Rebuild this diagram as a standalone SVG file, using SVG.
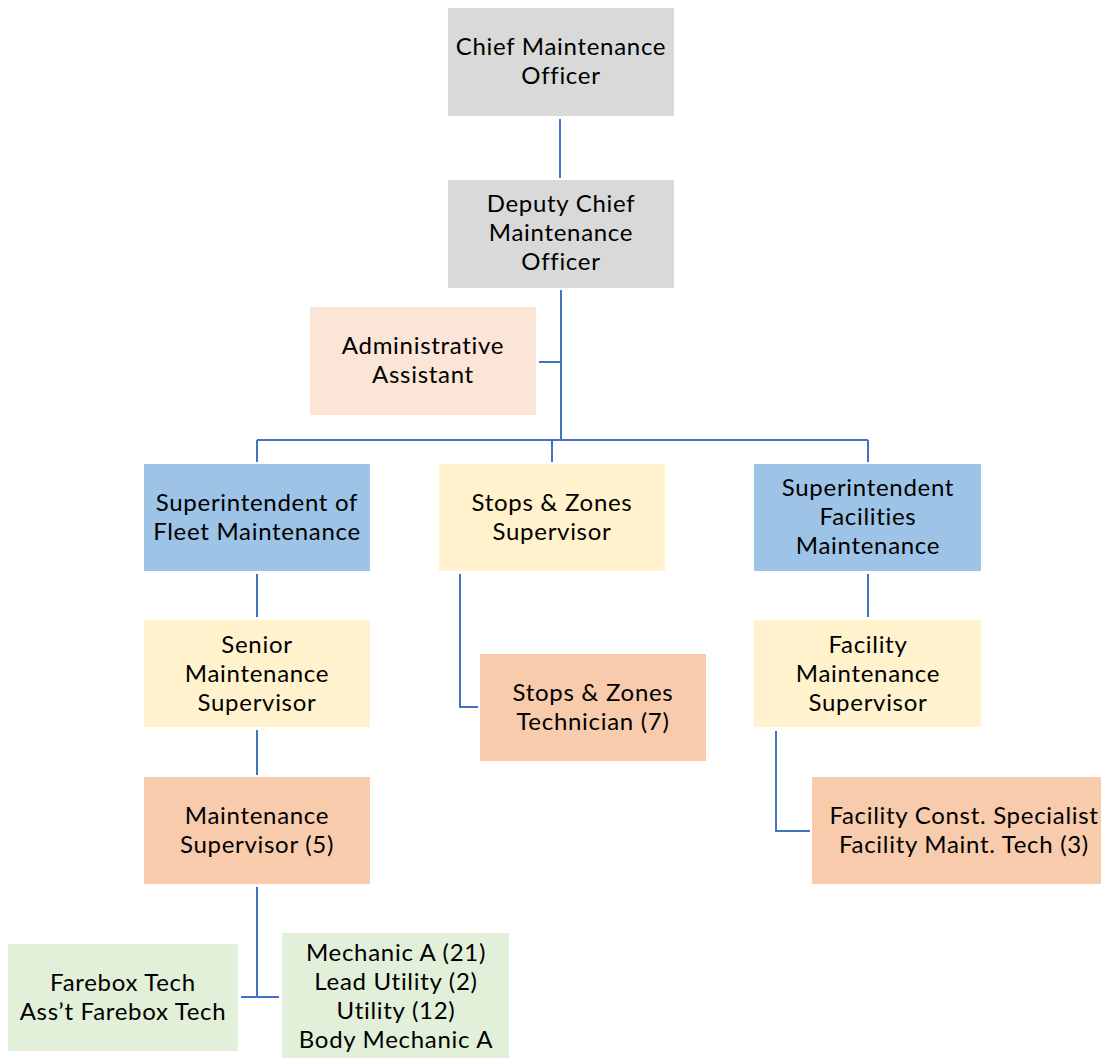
<svg xmlns="http://www.w3.org/2000/svg" width="1101" height="1058" viewBox="0 0 1101 1058">
  <style>
    text { font-family: Lato, "Open Sans", "Liberation Sans", Arial, sans-serif; font-size: 24px; letter-spacing: 0.7px; fill: #000; text-anchor: middle; }
    .gray { fill: #d9d9d9; }
    .peach { fill: #fbe5d6; }
    .blue { fill: #9dc3e6; }
    .yellow { fill: #fff2cc; }
    .orange { fill: #f8cbad; }
    .green { fill: #e2f0d9; }
    .conn { fill: none; stroke: #4472c4; stroke-width: 2; }
  </style>
  <rect width="1101" height="1058" fill="#fff"/>

  <g id="connectors">
    <path class="conn" d="M560 119 V178"/>
    <path class="conn" d="M561 290 V440"/>
    <path class="conn" d="M539 362 H561"/>
    <path class="conn" d="M257 440 H868"/>
    <path class="conn" d="M257 440 V462"/>
    <path class="conn" d="M552 440 V462"/>
    <path class="conn" d="M868 440 V462"/>
    <path class="conn" d="M257 574 V617"/>
    <path class="conn" d="M257 730 V775"/>
    <path class="conn" d="M257 887 V997 M241 997 H279"/>
    <path class="conn" d="M460 574 V707 H478"/>
    <path class="conn" d="M868 574 V617"/>
    <path class="conn" d="M776 731 V831 H810"/>
  </g>

  <g id="chief">
    <rect class="gray" x="448" y="8" width="226" height="108"/>
    <text x="561" y="55">Chief Maintenance</text>
    <text x="561" y="84">Officer</text>
  </g>
  <g id="deputy">
    <rect class="gray" x="448" y="180" width="226" height="108"/>
    <text x="561" y="212">Deputy Chief</text>
    <text x="561" y="241">Maintenance</text>
    <text x="561" y="270">Officer</text>
  </g>
  <g id="admin">
    <rect class="peach" x="310" y="307" width="226" height="108"/>
    <text x="423" y="354">Administrative</text>
    <text x="423" y="383">Assistant</text>
  </g>
  <g id="supt-fleet">
    <rect class="blue" x="144" y="464" width="226" height="107"/>
    <text x="257" y="511">Superintendent of</text>
    <text x="257" y="540">Fleet Maintenance</text>
  </g>
  <g id="stops-supervisor">
    <rect class="yellow" x="439" y="464" width="226" height="107"/>
    <text x="552" y="511">Stops &amp; Zones</text>
    <text x="552" y="540">Supervisor</text>
  </g>
  <g id="supt-facilities">
    <rect class="blue" x="754" y="464" width="227" height="107"/>
    <text x="868" y="496">Superintendent</text>
    <text x="868" y="525">Facilities</text>
    <text x="868" y="554">Maintenance</text>
  </g>
  <g id="senior-supervisor">
    <rect class="yellow" x="144" y="620" width="226" height="107"/>
    <text x="257" y="653">Senior</text>
    <text x="257" y="682">Maintenance</text>
    <text x="257" y="711">Supervisor</text>
  </g>
  <g id="stops-technician">
    <rect class="orange" x="480" y="654" width="226" height="107"/>
    <text x="593" y="701">Stops &amp; Zones</text>
    <text x="593" y="730">Technician (7)</text>
  </g>
  <g id="facility-supervisor">
    <rect class="yellow" x="754" y="620" width="227" height="107"/>
    <text x="868" y="653">Facility</text>
    <text x="868" y="682">Maintenance</text>
    <text x="868" y="711">Supervisor</text>
  </g>
  <g id="maint-supervisor">
    <rect class="orange" x="144" y="777" width="226" height="107"/>
    <text x="257" y="824">Maintenance</text>
    <text x="257" y="853">Supervisor (5)</text>
  </g>
  <g id="facility-staff">
    <rect class="orange" x="812" y="777" width="289" height="107"/>
    <text x="964" y="824">Facility Const. Specialist</text>
    <text x="964" y="853">Facility Maint. Tech (3)</text>
  </g>
  <g id="farebox">
    <rect class="green" x="8" y="944" width="230" height="107"/>
    <text x="123" y="991">Farebox Tech</text>
    <text x="123" y="1020">Ass’t Farebox Tech</text>
  </g>
  <g id="mechanics">
    <rect class="green" x="282" y="933" width="227" height="125"/>
    <text x="396" y="961">Mechanic A (21)</text>
    <text x="396" y="990">Lead Utility (2)</text>
    <text x="396" y="1019">Utility (12)</text>
    <text x="396" y="1048">Body Mechanic A</text>
  </g>
</svg>
